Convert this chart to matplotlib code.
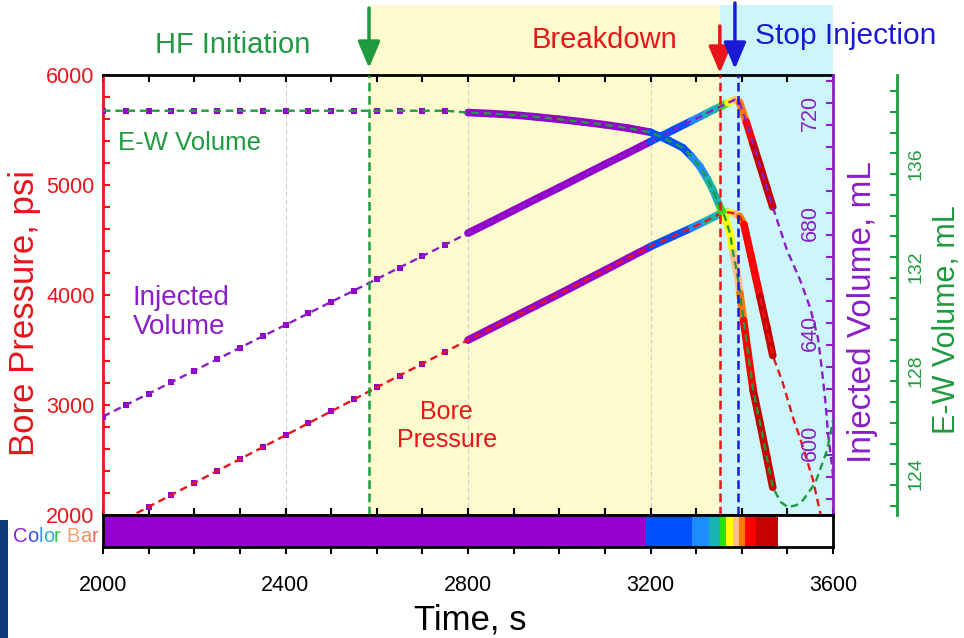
import matplotlib
matplotlib.use('Agg')
import matplotlib.pyplot as plt
import matplotlib.transforms as mtransforms
import numpy as np
from matplotlib.collections import LineCollection
from matplotlib.patches import Rectangle, FancyArrowPatch
from matplotlib.offsetbox import TextArea, HPacker, AnnotationBbox
from matplotlib.ticker import MultipleLocator

plt.rcParams['font.family'] = ['Liberation Sans', 'DejaVu Sans']

# event times (s)
T_INIT = 2583
T_BREAK = 3353
T_STOP = 3391

# colour bar: time bin edges and colours
cb_edges = [2000, 3190, 3290, 3329, 3352, 3365, 3381, 3394, 3407, 3431, 3480]
cb_colors = ['#9400cc', '#0050ff', '#1e8cff', '#19b3b3', '#33dd11',
             '#ffff00', '#ffbf8c', '#ff7a00', '#ff0000', '#c80000']

# bore pressure, psi
t_bp = [2050, 2100, 2150, 2200, 2250, 2300, 2350, 2400, 2450, 2500, 2550, 2600,
        2650, 2700, 2750, 2800, 2850, 2900, 2950, 3000, 3050, 3100, 3150, 3200,
        3250, 3290, 3320, 3340, 3355, 3370, 3385, 3395, 3405, 3420, 3440, 3455,
        3468, 3490, 3512, 3534, 3556, 3572, 3590]
p_bp = [1965, 2074, 2183, 2291, 2400, 2508, 2617, 2725, 2834, 2942, 3051, 3160,
        3268, 3375, 3483, 3590, 3695, 3800, 3905, 4010, 4118, 4225, 4333, 4440,
        4535, 4610, 4670, 4712, 4745, 4752, 4740, 4715, 4640, 4360, 3985, 3705,
        3450, 3200, 2890, 2620, 2320, 2020, 1790]

# injected volume, mL
t_iv = [2000, 2050, 2100, 2150, 2200, 2250, 2300, 2350, 2400, 2450, 2500, 2550,
        2600, 2650, 2700, 2750, 2800, 2850, 2900, 2950, 3000, 3050, 3100, 3150,
        3200, 3250, 3290, 3320, 3340, 3355, 3370, 3385, 3395, 3410, 3425, 3440,
        3455, 3468, 3499, 3528, 3550, 3567, 3575, 3583, 3589, 3598, 3606]
v_iv = [606.0, 610.2, 614.3, 618.5, 622.7, 626.8, 631.0, 635.2, 639.3, 643.5,
        647.7, 651.8, 656.0, 660.2, 664.3, 668.5, 672.7, 676.8, 681.0, 685.2,
        689.3, 693.5, 697.7, 701.8, 706.0, 710.2, 713.5, 716.0, 717.7, 718.9,
        720.1, 721.2, 720.3, 713.1, 705.1, 697.2, 689.1, 682.2, 666.6, 655.6,
        645.5, 634.6, 624.0, 612.0, 600.0, 587.7, 575.0]

# E-W volume, mL
t_ew = [2000, 2050, 2100, 2150, 2200, 2250, 2300, 2350, 2400, 2450, 2500, 2550,
        2600, 2650, 2700, 2750, 2800, 2850, 2900, 2950, 3000, 3050, 3100, 3150,
        3200, 3240, 3271, 3290, 3309, 3325, 3337, 3352, 3363, 3374, 3381, 3390,
        3396, 3404, 3412, 3425, 3440, 3455, 3468, 3485, 3501, 3520, 3534, 3561,
        3587, 3600]
v_ew = [137.65, 137.65, 137.65, 137.65, 137.65, 137.65, 137.65, 137.65, 137.65,
        137.65, 137.65, 137.65, 137.65, 137.65, 137.65, 137.65, 137.58, 137.54,
        137.49, 137.41, 137.32, 137.22, 137.11, 136.98, 136.82, 136.50, 136.22,
        135.88, 135.48, 135.00, 134.59, 133.94, 133.55, 132.93, 132.16, 131.38,
        130.61, 129.55, 128.52, 126.86, 125.59, 124.27, 123.11, 122.55, 122.34,
        122.42, 122.61, 123.27, 124.54, 125.70]

RED = '#e8151b'
GREEN = '#1f9a3f'
PURPLE = '#8a1ec8'
BLUE = '#1a1ad6'
BAND_START = 2800
BAND_END = 3470


def draw_curve(axis, t, v, color):
    t = np.asarray(t, dtype=float)
    v = np.asarray(v, dtype=float)
    # thick band coloured by time (colour bar)
    keep = (t >= BAND_START) & (t <= BAND_END)
    tt, vv = t[keep], v[keep]
    pts = np.column_stack([tt, vv])
    segs = np.stack([pts[:-1], pts[1:]], axis=1)
    mids = (tt[:-1] + tt[1:]) / 2
    idx = np.searchsorted(cb_edges, mids, side='right') - 1
    lc = LineCollection(segs, colors=[cb_colors[i] for i in idx], linewidths=5.5,
                        capstyle='round', joinstyle='round', zorder=3)
    axis.add_collection(lc)
    # scattered purple points before the band
    early = t < BAND_START
    axis.plot(t[early], v[early], 's', color=cb_colors[0], ms=3.8, mew=0, zorder=3)
    # dashed curve on top
    axis.plot(t, v, color=color, lw=1.7, dashes=(3.2, 2.0), zorder=4)


fig = plt.figure(figsize=(9.64, 6.38), dpi=100)
L, R, T, B = 103 / 964, 833 / 964, 75 / 638, 515 / 638
ax = fig.add_axes([L, 1 - B, R - L, B - T])
ax.set_facecolor('none')
ax_iv = ax.twinx()
ax_ew = ax.twinx()
ax_cb = fig.add_axes([L, 1 - 547 / 638, R - L, 32 / 638])

# background shading (extends above the plot)
blend = mtransforms.blended_transform_factory(ax.transData, fig.transFigure)
y0, y1 = 1 - 515 / 638, 1 - 5 / 638
fig.add_artist(Rectangle((T_INIT, y0), T_BREAK - T_INIT, y1 - y0, transform=blend,
                         facecolor='#fdfbcd', edgecolor='none', zorder=-5))
fig.add_artist(Rectangle((T_BREAK, y0), 3600 - T_BREAK, y1 - y0, transform=blend,
                         facecolor='#ccf6fa', edgecolor='none', zorder=-5))

draw_curve(ax, t_bp, p_bp, RED)
draw_curve(ax_iv, t_iv, v_iv, PURPLE)
draw_curve(ax_ew, t_ew, v_ew, GREEN)

for tv, c in [(T_INIT, GREEN), (T_BREAK, RED), (T_STOP, BLUE)]:
    ax_ew.axvline(tv, color=c, lw=1.8, dashes=(3.5, 1.8), zorder=5)

# main axis
ax.set_xlim(2000, 3600)
ax.set_ylim(2000, 6000)
ax.xaxis.set_major_locator(MultipleLocator(400))
ax.xaxis.set_minor_locator(MultipleLocator(100))
ax.yaxis.set_major_locator(MultipleLocator(1000))
ax.yaxis.set_minor_locator(MultipleLocator(200))
ax.tick_params(axis='x', which='both', direction='in', top=True, bottom=True,
               labelbottom=False, length=5, width=1.5)
ax.tick_params(axis='y', which='both', direction='in', length=5, width=1.5,
               colors=RED, labelsize=15.5, pad=6)
ax.grid(axis='x', which='major', color='#cfcfcf', lw=0.8, dashes=(4, 3))
for s in ['top', 'bottom']:
    ax.spines[s].set_linewidth(2)
ax.spines['left'].set_color(RED)
ax.spines['left'].set_linewidth(2)
ax.spines['right'].set_visible(False)

# injected volume axis
ax_iv.set_ylim(570.2, 730.2)
ax_iv.yaxis.set_major_locator(MultipleLocator(40))
ax_iv.yaxis.set_minor_locator(MultipleLocator(8))
ax_iv.tick_params(axis='y', which='both', direction='in', length=5, width=1.5,
                  colors=PURPLE, labelsize=15.5, labelrotation=90, pad=-24)
for s in ['top', 'bottom', 'left']:
    ax_iv.spines[s].set_visible(False)
ax_iv.spines['right'].set_color(PURPLE)
ax_iv.spines['right'].set_linewidth(2)

# E-W volume axis
ax_ew.set_ylim(122.04, 139.03)
ax_ew.yaxis.set_major_locator(MultipleLocator(4))
ax_ew.yaxis.set_minor_locator(MultipleLocator(0.8))
ax_ew.tick_params(axis='y', which='both', direction='in', length=5, width=1.5,
                  colors=GREEN, labelsize=14, labelrotation=90, pad=8)
for s in ['top', 'bottom', 'left']:
    ax_ew.spines[s].set_visible(False)
ax_ew.spines['right'].set_position(('outward', 46))
ax_ew.spines['right'].set_color(GREEN)
ax_ew.spines['right'].set_linewidth(2)

# colour bar
for i, c in enumerate(cb_colors):
    ax_cb.axvspan(cb_edges[i], cb_edges[i + 1], color=c, lw=0)
ax_cb.set_xlim(2000, 3600)
ax_cb.set_ylim(0, 1)
ax_cb.set_yticks([])
ax_cb.xaxis.set_major_locator(MultipleLocator(400))
ax_cb.xaxis.set_minor_locator(MultipleLocator(100))
ax_cb.tick_params(axis='x', which='both', direction='out', length=5, width=1.5,
                  labelsize=15.5, pad=15)
for s in ax_cb.spines.values():
    s.set_linewidth(2)

# axis titles
fig.text(25 / 964, 1 - 313 / 638, 'Bore Pressure, psi', rotation=90, color=RED,
         fontsize=25, ha='center', va='center')
fig.text(862 / 964, 1 - 312 / 638, 'Injected Volume, mL', rotation=90, color=PURPLE,
         fontsize=24, ha='center', va='center')
fig.text(947 / 964, 1 - 320 / 638, 'E-W Volume, mL', rotation=90, color=GREEN,
         fontsize=22, ha='center', va='center')
fig.text(470 / 964, 1 - 620 / 638, 'Time, s', fontsize=25, ha='center', va='center')

# in-plot labels
ax.text(0.02, 0.845, 'E-W Volume', transform=ax.transAxes, color=GREEN,
        fontsize=18.5, ha='left', va='center')
ax.text(0.041, 0.461, 'Injected\nVolume', transform=ax.transAxes, color=PURPLE,
        fontsize=20, ha='left', va='center', linespacing=1.15)
ax.text(0.471, 0.202, 'Bore\nPressure', transform=ax.transAxes, color=RED,
        fontsize=18, ha='center', va='center', linespacing=1.2)

# event annotations
fig.text(233 / 964, 1 - 45 / 638, 'HF Initiation', color=GREEN, fontsize=21,
         ha='center', va='center')
fig.text(605 / 964, 1 - 40 / 638, 'Breakdown', color=RED, fontsize=21,
         ha='center', va='center')
fig.text(846 / 964, 1 - 36 / 638, 'Stop Injection', color=BLUE, fontsize=21.5,
         ha='center', va='center')
for tv, c, ya, yb in [(T_INIT, GREEN, 8, 68), (T_BREAK - 1, RED, 26, 73),
                      (T_STOP - 6, BLUE, 3, 69)]:
    fig.add_artist(FancyArrowPatch((tv, 1 - ya / 638), (tv, 1 - yb / 638),
                                   transform=blend, arrowstyle='-|>,head_length=0.9,head_width=0.38',
                                   mutation_scale=18, lw=2.5, color=c,
                                   shrinkA=0, shrinkB=0))

# multicoloured "Color Bar" label
letters = ['C', 'o', 'l', 'o', 'r ', 'B', 'a', 'r']
letter_colors = ['#8a1ec8', '#3a4fe8', '#2a9ee8', '#2fb0d0', '#3cc040',
                 '#f4a070', '#ee8866', '#e86a58']
boxes = [TextArea(s, textprops=dict(color=c, fontsize=14.5)) for s, c in zip(letters, letter_colors)]
pack = HPacker(children=boxes, align='baseline', pad=0, sep=0)
fig.add_artist(AnnotationBbox(pack, (98 / 964, 1 - 537 / 638), xycoords='figure fraction',
                              box_alignment=(1, 0.5), frameon=False))

# dark strip at lower-left edge
fig.add_artist(Rectangle((0, 0), 8 / 964, 118 / 638, transform=fig.transFigure,
                         facecolor='#0d3b7a', edgecolor='none'))

fig.savefig('out.png', dpi=100)
